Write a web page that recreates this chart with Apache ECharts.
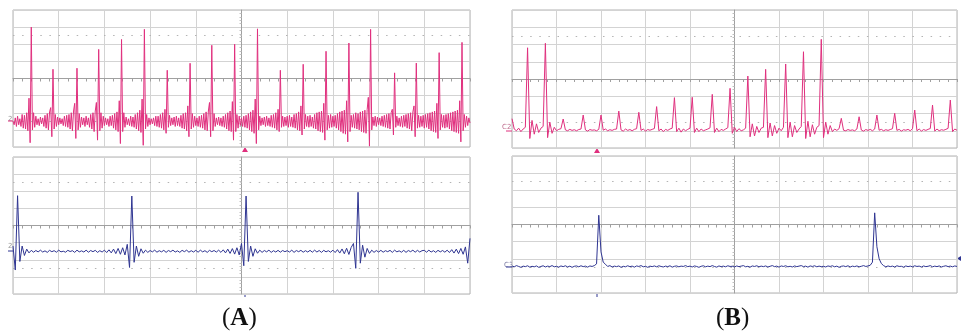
<!DOCTYPE html>
<html>
<head>
<meta charset="utf-8">
<script src="https://cdn.jsdelivr.net/npm/echarts@6/dist/echarts.min.js"></script>
<style>
html,body{margin:0;padding:0;background:#fff;}
#c{width:961px;height:334px;}
</style>
</head>
<body>
<div id="c"></div>
<script>
// Time axis: divisions from screen centre
const X_START = -5;
const STEP_FINE = 0.025;   // sampling of panel A top trace
const STEP = 0.05;         // sampling of the other traces

// Panel A, top trace (pink), values in vertical divisions
const pinkA = [
 -2.5,-2.7,-2.3,-2.8,-2.2,-2.7,-2.35,-2.8,-2.1,-2.9,-2.15,-2.95,-2.0,-3.05,
 -1.15,-3.75, 3.0,
 -3.0,-2.0,-2.85,-2.2,-2.7,-2.35,-2.75,-2.25,-2.65,-2.3,-2.8,-2.15,-2.9,-2.05,-3.0,-1.95,
 -1.7,-3.4, 0.54,
 -2.95,-2.1,-2.8,-2.25,-2.7,-2.3,-2.65,-2.35,-2.75,-2.2,-2.8,-2.15,-2.85,-2.1,-2.95,-2.0,-3.05,-1.9,
 -1.45,-3.5, 0.6,
 -3.0,-2.05,-2.85,-2.25,-2.7,-2.3,-2.8,-2.2,-2.7,-2.3,-2.85,-2.1,-2.95,-2.0,-3.1,-1.9,
 -1.4,-3.6, 1.7,
 -3.05,-2.0,-2.9,-2.2,-2.75,-2.3,-2.7,-2.35,-2.8,-2.2,-2.75,-2.15,-2.9,-2.05,-3.0,-1.95,-3.1,
 -1.3,-3.8, 2.28,
 -3.1,-2.0,-2.85,-2.25,-2.7,-2.35,-2.75,-2.2,-2.8,-2.25,-2.85,-2.1,-2.95,-2.0,-3.05,-1.85,-3.15,
 -1.2,-3.9, 2.87,
 -2.95,-2.1,-2.8,-2.3,-2.7,-2.35,-2.65,-2.3,-2.75,-2.2,-2.8,-2.2,-2.85,-2.1,-2.9,-2.0,-3.0,
 -1.8,-3.2, 0.48,
 -2.85,-2.15,-2.75,-2.3,-2.7,-2.25,-2.8,-2.2,-2.75,-2.3,-2.8,-2.15,-2.9,-2.05,-2.95,-2.0,-3.05,
 -1.6,-3.4, 0.89,
 -2.95,-2.05,-2.85,-2.2,-2.75,-2.3,-2.8,-2.2,-2.85,-2.15,-2.9,-2.05,-3.0,-1.95,-3.05,-1.9,
 -1.4,-3.4, 1.94,
 -3.05,-2.05,-2.8,-2.3,-2.7,-2.25,-2.75,-2.3,-2.8,-2.2,-2.85,-2.1,-2.95,-2.0,-3.05,-1.9,-3.1,
 -1.35,-3.6, 2.0,
 -3.1,-2.1,-2.9,-2.2,-2.75,-2.3,-2.8,-2.2,-2.85,-2.15,-2.9,-2.05,-3.0,-1.95,-3.1,-1.85,-3.2,
 -1.2,-3.8, 2.9,
 -3.0,-2.2,-2.75,-2.3,-2.7,-2.25,-2.8,-2.2,-2.75,-2.3,-2.8,-2.15,-2.85,-2.1,-2.9,-2.0,-3.0,
 -1.8,-3.1, 0.48,
 -2.85,-2.2,-2.8,-2.25,-2.75,-2.2,-2.85,-2.15,-2.8,-2.25,-2.85,-2.1,-2.9,-2.05,-3.0,-1.95,-3.05,
 -1.6,-3.3, 0.83,
 -2.95,-2.1,-2.8,-2.2,-2.85,-2.15,-2.8,-2.25,-2.9,-2.1,-2.95,-2.0,-3.05,-1.95,-3.1,-1.9,-3.15,
 -1.45,-3.6, 1.59,
 -3.0,-2.15,-2.9,-2.1,-2.85,-2.2,-2.8,-2.15,-2.9,-2.05,-3.0,-1.95,-3.1,-1.9,-3.2,-1.85,-3.25,
 -1.3,-3.7, 2.07,
 -3.1,-2.15,-2.85,-2.1,-2.9,-2.0,-2.95,-2.05,-3.0,-1.95,-3.1,-1.9,-3.15,-1.85,-3.2,-1.8,
 -1.1,-3.95, 2.87,
 -3.0,-2.25,-2.75,-2.2,-2.8,-2.25,-2.7,-2.3,-2.75,-2.2,-2.8,-2.15,-2.85,-2.1,-2.9,-2.05,-2.95,-2.0,
 -1.8,-3.3, 0.33,
 -2.85,-2.2,-2.75,-2.3,-2.8,-2.2,-2.85,-2.15,-2.8,-2.1,-2.9,-2.05,-2.95,-2.0,-3.05,-1.95,
 -1.6,-3.4, 0.9,
 -2.9,-2.15,-2.85,-2.2,-2.8,-2.15,-2.9,-2.1,-2.85,-2.05,-2.95,-2.0,-3.05,-1.95,-3.1,-1.9,-3.15,
 -1.45,-3.5, 1.51,
 -3.0,-2.1,-2.85,-2.15,-2.9,-2.1,-2.85,-2.05,-2.95,-2.0,-3.05,-1.95,-3.1,-1.9,-3.15,-1.85,-3.2,
 -1.3,-3.7, 2.11,
 -3.05,-2.1,-2.85,-2.2,-2.75,-2.3,-2.6
];

// Panel A, bottom trace (blue)
const blueA = [
 -1.2,-2.6,1.74,-2.1,-1.2,-1.75,-1.38,-1.6,-1.45,-1.56,
 -1.46,-1.54,-1.44,-1.55,-1.48,-1.57,-1.45,-1.53,-1.47,-1.56,
 -1.44,-1.54,-1.5,-1.56,-1.45,-1.52,-1.47,-1.57,-1.44,-1.54,
 -1.48,-1.55,-1.44,-1.56,-1.46,-1.53,-1.45,-1.57,-1.47,-1.55,
 -1.44,-1.58,-1.42,-1.6,-1.38,-1.64,-1.34,-1.68,-1.3,-1.72,
 -1.1,-2.45,
 1.72,
 -2.15,-1.2,-1.8,-1.36,-1.62,-1.44,-1.57,
 -1.46,-1.54,-1.44,-1.56,-1.47,-1.54,-1.45,-1.57,-1.46,-1.53,
 -1.44,-1.55,-1.48,-1.57,-1.45,-1.53,-1.44,-1.56,-1.47,-1.55,
 -1.45,-1.56,-1.44,-1.54,-1.47,-1.57,-1.45,-1.53,-1.46,-1.55,
 -1.44,-1.57,-1.42,-1.6,-1.38,-1.63,-1.35,-1.67,-1.3,-1.72,
 -1.05,-2.35,
 1.72,
 -2.1,-1.2,-1.8,-1.36,-1.62,-1.44,-1.57,
 -1.46,-1.54,-1.44,-1.57,-1.47,-1.55,-1.45,-1.56,-1.46,-1.53,
 -1.47,-1.55,-1.44,-1.57,-1.46,-1.53,-1.45,-1.56,-1.47,-1.55,
 -1.45,-1.56,-1.44,-1.55,-1.46,-1.57,-1.45,-1.54,-1.47,-1.56,
 -1.44,-1.58,-1.41,-1.61,-1.37,-1.65,-1.33,-1.69,-1.28,-1.05,-2.5,
 1.94,
 -2.2,-1.15,-1.85,-1.34,-1.63,-1.44,-1.57,-1.46,
 -1.55,-1.45,-1.56,-1.47,-1.53,-1.45,-1.57,-1.44,-1.54,-1.48,
 -1.56,-1.45,-1.57,-1.46,-1.53,-1.44,-1.56,-1.45,-1.55,-1.47,
 -1.45,-1.56,-1.44,-1.55,-1.47,-1.57,-1.45,-1.54,-1.46,-1.56,
 -1.44,-1.58,-1.41,-1.61,-1.38,-1.64,-1.34,-1.68,-1.25,-2.2,
 -0.75
];

// Panel B, top trace (pink)
const pinkB = [
 -2.3,-2.9,-3.0,-2.85,-3.05,-2.9,-2.8,
 1.81,
 -3.45,-2.4,-3.2,-2.6,-3.1,-2.85,-2.75,
 2.07,
 -3.4,-2.5,-3.15,-2.8,-3.0,-2.92,-2.88,
 -2.32,
 -2.95,-3.0,-2.92,-2.98,-2.94,-3.0,-2.93,-2.9,
 -2.09,
 -2.95,-3.02,-2.93,-2.97,-2.95,-3.0,-2.92,
 -2.09,
 -2.97,-2.9,-3.0,-2.94,-2.98,-2.92,-2.9,
 -1.86,
 -2.95,-3.02,-2.9,-2.98,-2.93,-3.0,-2.92,-2.88,
 -1.93,
 -2.98,-2.9,-3.02,-2.93,-2.97,-2.92,-2.87,
 -1.6,
 -3.0,-2.9,-3.05,-2.92,-2.98,-2.9,-2.85,
 -1.08,
 -3.05,-2.85,-3.08,-2.9,-3.0,-2.92,-2.85,
 -1.06,
 -3.1,-2.85,-3.05,-2.9,-3.0,-2.95,-2.9,-2.83,
 -0.89,
 -3.1,-2.85,-3.05,-2.92,-2.98,-2.9,-2.82,
 -0.54,
 -3.15,-2.8,-3.05,-2.88,-3.0,-2.95,-2.85,
 0.17,
 -3.35,-2.6,-3.3,-2.75,-3.1,-2.85,-2.8,
 0.56,
 -3.4,-2.55,-3.3,-2.7,-3.15,-2.85,-3.0,-2.8,
 0.87,
 -3.4,-2.5,-3.35,-2.7,-3.1,-2.9,-2.75,
 1.58,
 -3.45,-2.45,-3.35,-2.65,-3.2,-2.8,-2.7,
 2.3,
 -3.4,-2.5,-3.2,-2.7,-3.05,-2.9,-2.98,-2.88,
 -2.28,
 -2.97,-3.0,-2.93,-2.98,-2.95,-3.0,-2.9,
 -2.19,
 -2.96,-3.02,-2.93,-2.98,-2.92,-3.0,-2.9,
 -2.09,
 -2.97,-2.92,-3.0,-2.94,-2.98,-2.93,-2.88,
 -1.99,
 -2.98,-2.92,-3.02,-2.94,-2.97,-2.92,-3.0,-2.88,
 -1.8,
 -3.0,-2.9,-3.02,-2.93,-2.98,-2.92,-2.87,
 -1.51,
 -3.02,-2.9,-3.0,-2.94,-2.97,-2.92,-2.86,
 -1.22,
 -3.05,-2.9,-2.97
];

// Panel B, bottom trace (blue)
const blueB = [
 -2.42,-2.47,-2.4,-2.45,-2.5,-2.43,-2.46,-2.41,-2.49,-2.44,
 -2.47,-2.42,-2.5,-2.45,-2.41,-2.48,-2.43,-2.46,-2.4,-2.47,
 -2.44,-2.49,-2.42,-2.46,-2.41,-2.48,-2.43,-2.5,-2.44,-2.42,
 -2.47,-2.41,-2.46,-2.43,-2.49,-2.42,-2.45,-2.4,-2.3,
 0.54,
 -1.6,-2.2,-2.32,-2.45,-2.4,-2.48,-2.43,-2.46,-2.42,-2.5,
 -2.44,-2.47,-2.41,-2.46,-2.43,-2.49,-2.42,-2.45,-2.4,-2.47,
 -2.44,-2.5,-2.43,-2.46,-2.42,-2.47,-2.41,-2.45,-2.48,-2.43,
 -2.46,-2.41,-2.49,-2.44,-2.42,-2.47,-2.43,-2.45,-2.4,-2.46,
 -2.43,-2.48,-2.42,-2.45,-2.5,-2.44,-2.41,-2.47,-2.43,-2.46,
 -2.4,-2.45,-2.49,-2.42,-2.46,-2.43,-2.47,-2.41,-2.45,-2.44,
 -2.48,-2.42,-2.46,-2.43,-2.4,-2.47,-2.44,-2.49,-2.42,-2.45,
 -2.41,-2.47,-2.43,-2.46,-2.42,-2.48,-2.44,-2.4,-2.46,-2.43,
 -2.49,-2.42,-2.45,-2.41,-2.47,-2.44,-2.48,-2.42,-2.46,-2.43,
 -2.4,-2.46,-2.43,-2.49,-2.42,-2.45,-2.41,-2.47,-2.43,-2.46,
 -2.44,-2.48,-2.42,-2.45,-2.41,-2.47,-2.43,-2.5,-2.44,-2.42,
 -2.46,-2.41,-2.48,-2.43,-2.46,-2.42,-2.47,-2.44,-2.4,-2.45,
 -2.42,-2.38,-2.2,
 0.68,
 -1.3,-2.0,-2.28,-2.4,-2.47,-2.42,
 -2.46,-2.43,-2.48,-2.41,-2.45,-2.44,-2.49,-2.42,-2.46,-2.43,
 -2.47,-2.41,-2.45,-2.43,-2.48,-2.42,-2.46,-2.44,-2.4,-2.47,
 -2.43,-2.46,-2.42,-2.48,-2.44,-2.41,-2.46,-2.43,-2.47,-2.42,-2.45
];

const panelLabels = ['A', 'B'];

const PINK = '#e0307e';
const BLUE = '#2f3592';

function toXY(arr, step) {
  return arr.map((v, i) => [X_START + i * step, v]);
}

const grids = [
  {left: 13, top: 10, width: 457, height: 137},
  {left: 13, top: 157, width: 457, height: 137},
  {left: 512, top: 10, width: 445, height: 138},
  {left: 512, top: 156, width: 445, height: 137}
];

function xAxisCfg(i) {
  return {
    type: 'value', gridIndex: i, min: -5, max: 5, interval: 1,
    axisLabel: {show: false},
    axisLine: {show: true, onZero: true, lineStyle: {color: '#a0a0a0', width: 1}},
    axisTick: {show: true, length: 3, lineStyle: {color: '#a0a0a0'}},
    minorTick: {show: true, splitNumber: 5, length: 3, lineStyle: {color: '#a0a0a0'}},
    splitLine: {show: true, lineStyle: {color: '#d3d3d3', width: 1}}
  };
}
function yAxisCfg(i) {
  return {
    type: 'value', gridIndex: i, min: -4, max: 4, interval: 1,
    axisLabel: {show: false},
    axisLine: {show: true, onZero: true, lineStyle: {color: '#a0a0a0', width: 1}},
    axisTick: {show: false},
    minorTick: {show: true, splitNumber: 5, length: 2, lineStyle: {color: '#c0c0c0'}},
    splitLine: {show: true, lineStyle: {color: '#d3d3d3', width: 1}}
  };
}

const traces = [pinkA, blueA, pinkB, blueB];
const steps = [STEP_FINE, STEP, STEP, STEP];
const colors = [PINK, BLUE, PINK, BLUE];

const series = traces.map((t, i) => ({
  type: 'line', xAxisIndex: i, yAxisIndex: i,
  data: toXY(t, steps[i]), showSymbol: false, symbol: 'none',
  lineStyle: {color: colors[i], width: 1},
  animation: false, silent: true, z: 5,
  markLine: {
    silent: true, symbol: ['none', 'none'], animation: false,
    label: {show: false},
    lineStyle: {type: [1.5, 7.6], color: '#b3b3b3', width: 1},
    data: [{yAxis: 2.5}, {yAxis: -2.5}]
  }
}));

const labelRich = {
  p: {fontFamily: 'Liberation Serif', fontSize: 25, fill: '#111'},
  b: {fontFamily: 'Liberation Serif', fontSize: 25, fontWeight: 'bold', fill: '#111'}
};

const chart = echarts.init(document.getElementById('c'), null, {renderer: 'canvas'});
chart.setOption({
  backgroundColor: '#ffffff',
  animation: false,
  grid: grids.map(g => Object.assign({show: true, borderColor: '#b3b3b3', borderWidth: 1, backgroundColor: 'transparent'}, g)),
  xAxis: grids.map((g, i) => xAxisCfg(i)),
  yAxis: grids.map((g, i) => yAxisCfg(i)),
  series: series,
  graphic: [
    {type: 'text', left: 222, top: 306, style: {text: '{p|(}{b|' + panelLabels[0] + '}{p|)}', rich: labelRich}},
    {type: 'text', left: 716, top: 306, style: {text: '{p|(}{b|' + panelLabels[1] + '}{p|)}', rich: labelRich}},
    // channel markers
    {type: 'text', left: 8, top: 116, style: {text: '2', fontSize: 7, fill: '#999', fontFamily: 'DejaVu Sans'}},
    {type: 'line', shape: {x1: 8, y1: 121, x2: 14, y2: 121}, style: {stroke: PINK, lineWidth: 1}},
    {type: 'text', left: 8, top: 243, style: {text: '2', fontSize: 7, fill: '#999', fontFamily: 'DejaVu Sans'}},
    {type: 'line', shape: {x1: 8, y1: 251, x2: 14, y2: 251}, style: {stroke: BLUE, lineWidth: 1}},
    {type: 'text', left: 502, top: 124, style: {text: 'C2', fontSize: 7, fill: '#c07090', fontFamily: 'DejaVu Sans'}},
    {type: 'line', shape: {x1: 506, y1: 131, x2: 513, y2: 131}, style: {stroke: PINK, lineWidth: 1}},
    {type: 'text', left: 504, top: 262, style: {text: 'C3', fontSize: 7, fill: '#8080a8', fontFamily: 'DejaVu Sans'}},
    {type: 'line', shape: {x1: 506, y1: 267, x2: 513, y2: 267}, style: {stroke: BLUE, lineWidth: 1}},
    // trigger markers
    {type: 'polygon', shape: {points: [[242, 152], [248, 152], [245, 147]]}, style: {fill: PINK}},
    {type: 'polygon', shape: {points: [[594, 153], [600, 153], [597, 148]]}, style: {fill: PINK}},
    {type: 'line', shape: {x1: 245, y1: 294, x2: 245, y2: 297}, style: {stroke: BLUE, lineWidth: 1}},
    {type: 'line', shape: {x1: 597, y1: 293, x2: 597, y2: 297}, style: {stroke: BLUE, lineWidth: 1}},
    {type: 'polygon', shape: {points: [[961, 256], [961, 261], [957, 258.5]]}, style: {fill: BLUE}}
  ]
});
</script>
</body>
</html>
